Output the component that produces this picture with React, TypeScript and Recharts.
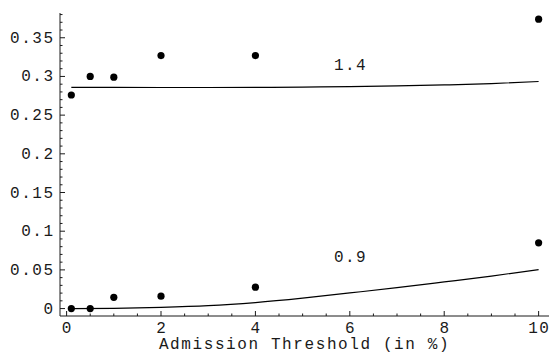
import { ComposedChart, Line, Scatter, XAxis, YAxis } from "recharts";

// admission thresholds (in %) where the simulation was run
const thresholds = [0.1, 0.5, 1, 2, 4, 10];
const observed14 = [0.276, 0.3, 0.299, 0.327, 0.327, 0.374];
const observed09 = [0, 0, 0.0146, 0.016, 0.0276, 0.085];

// fitted curves
const fitX = [0.1, 1, 2, 3, 4, 5, 6, 7, 8, 9, 10];
const fit14 = [0.286, 0.2858, 0.2857, 0.2857, 0.2858, 0.2862, 0.2868, 0.2877, 0.289, 0.2908, 0.2935];
const fit09 = [0, 0.0003, 0.0015, 0.0037, 0.0078, 0.0135, 0.0202, 0.027, 0.0344, 0.042, 0.0504];

const curveNames = ["1.4", "0.9"];
const curveNameX = [6, 6];
const curveNameY = [0.315, 0.067];

const xMajor = [0, 2, 4, 6, 8, 10];
const xLabels = ["0", "2", "4", "6", "8", "10"];
const yMajor = [0, 0.05, 0.1, 0.15, 0.2, 0.25, 0.3, 0.35];
const yLabels = ["0", "0.05", "0.1", "0.15", "0.2", "0.25", "0.3", "0.35"];

const xTicks = Array.from({ length: 21 }, (_, i) => i * 0.5);
const yTicks = Array.from({ length: 39 }, (_, i) => i / 100);

const X_DOMAIN = [-0.14, 10.22];
const Y_DOMAIN = [-0.0096, 0.382];

const FONT = "'Liberation Mono', 'DejaVu Sans Mono', monospace";
const INK = "#1a1a1a";
const SP = 1.5;

const points14 = thresholds.map((x, i) => ({ x, y: observed14[i] }));
const points09 = thresholds.map((x, i) => ({ x, y: observed09[i] }));
const curve14 = fitX.map((x, i) => ({ x, y: fit14[i] }));
const curve09 = fitX.map((x, i) => ({ x, y: fit09[i] }));
const nameData = curveNames.map((t, i) => ({ x: curveNameX[i], y: curveNameY[i], t }));

const findMajor = (list: number[], v: number) => list.findIndex((m) => Math.abs(m - v) < 1e-6);

function frameTick(side: "left" | "right" | "top" | "bottom") {
  return (props: any) => {
    const { x, y, payload } = props;
    const v = payload.value;
    const majors = side === "left" || side === "right" ? yMajor : xMajor;
    const idx = findMajor(majors, v);
    const len = idx >= 0 ? 5 : 2.5;
    let line;
    if (side === "left") line = <line x1={x} y1={y} x2={x + len} y2={y} stroke={INK} />;
    else if (side === "right") line = <line x1={x} y1={y} x2={x - len} y2={y} stroke={INK} />;
    else if (side === "top") line = <line x1={x} y1={y} x2={x} y2={y + len} stroke={INK} />;
    else line = <line x1={x} y1={y} x2={x} y2={y - len} stroke={INK} />;
    let label = null;
    if (idx >= 0 && side === "left") {
      label = (
        <text x={x - 7 + SP} y={y + 5} textAnchor="end" fontFamily={FONT} fontSize={16} letterSpacing={SP} fill={INK}>
          {yLabels[idx]}
        </text>
      );
    }
    if (idx >= 0 && side === "bottom") {
      label = (
        <text x={x + SP / 2} y={y + 16.5} textAnchor="middle" fontFamily={FONT} fontSize={16} letterSpacing={SP} fill={INK}>
          {xLabels[idx]}
        </text>
      );
    }
    return (
      <g>
        {line}
        {label}
      </g>
    );
  };
}

const dot = (p: any) => <circle cx={p.cx} cy={p.cy} r={3.6} fill="#000" />;
const nameShape = (p: any) => (
  <text x={p.cx + SP / 2} y={p.cy + 5} textAnchor="middle" fontFamily={FONT} fontSize={16} letterSpacing={SP} fill={INK}>
    {p.payload.t}
  </text>
);

export default function App() {
  return (
    <div style={{ position: "absolute", left: 0, top: 0, background: "#fff" }}>
      <ComposedChart width={551} height={354} margin={{ top: 13, right: 2, bottom: 0, left: 0 }}>
        <XAxis
          xAxisId="b"
          type="number"
          dataKey="x"
          domain={X_DOMAIN}
          allowDataOverflow
          ticks={xTicks}
          interval={0}
          height={38}
          tickSize={0}
          tickMargin={0}
          tickLine={false}
          axisLine={{ stroke: INK }}
          tick={frameTick("bottom")}
          label={{
            value: "Admission Threshold (in %)",
            position: "insideBottom",
            offset: 5,
            fontFamily: FONT,
            fontSize: 16,
            letterSpacing: 1.6,
            fill: INK,
          }}
        />
        <XAxis
          xAxisId="t"
          orientation="top"
          type="number"
          dataKey="x"
          domain={X_DOMAIN}
          allowDataOverflow
          ticks={xTicks}
          interval={0}
          height={0}
          tickSize={0}
          tickMargin={0}
          tickLine={false}
          axisLine={{ stroke: INK }}
          tick={frameTick("top")}
        />
        <YAxis
          yAxisId="l"
          type="number"
          dataKey="y"
          domain={Y_DOMAIN}
          allowDataOverflow
          ticks={yTicks}
          interval={0}
          width={60}
          tickSize={0}
          tickMargin={0}
          tickLine={false}
          axisLine={{ stroke: INK }}
          tick={frameTick("left")}
        />
        <YAxis
          yAxisId="r"
          orientation="right"
          type="number"
          dataKey="y"
          domain={Y_DOMAIN}
          allowDataOverflow
          ticks={yTicks}
          interval={0}
          width={0}
          tickSize={0}
          tickMargin={0}
          tickLine={false}
          axisLine={{ stroke: INK }}
          tick={frameTick("right")}
        />
        <Line
          xAxisId="b"
          yAxisId="l"
          data={curve14}
          dataKey="y"
          type="monotone"
          stroke="#000"
          strokeWidth={1.2}
          dot={false}
          isAnimationActive={false}
        />
        <Line
          xAxisId="b"
          yAxisId="l"
          data={curve09}
          dataKey="y"
          type="monotone"
          stroke="#000"
          strokeWidth={1.2}
          dot={false}
          isAnimationActive={false}
        />
        <Scatter xAxisId="b" yAxisId="l" data={points14} dataKey="y" shape={dot} isAnimationActive={false} />
        <Scatter xAxisId="b" yAxisId="l" data={points09} dataKey="y" shape={dot} isAnimationActive={false} />
        <Scatter xAxisId="t" yAxisId="r" data={nameData} dataKey="y" shape={nameShape} isAnimationActive={false} />
      </ComposedChart>
    </div>
  );
}
